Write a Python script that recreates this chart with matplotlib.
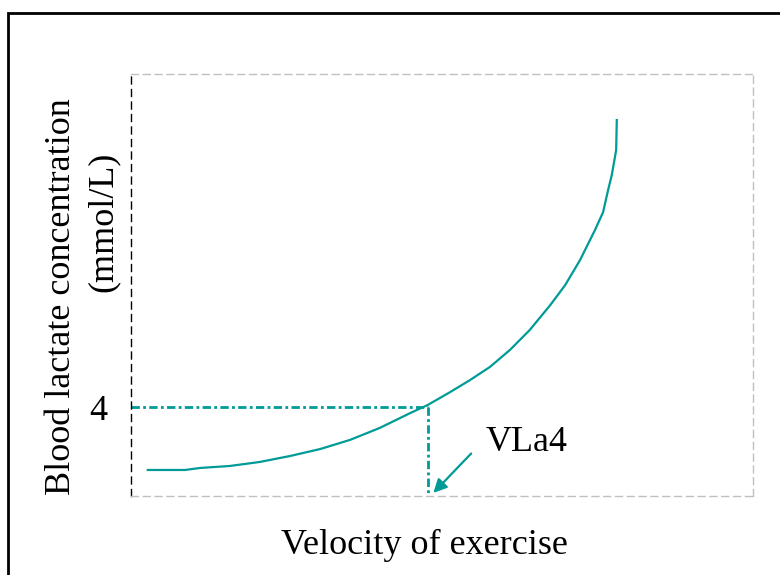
import numpy as np
import matplotlib.pyplot as plt
from matplotlib.patches import Rectangle

# curve (arbitrary velocity units, mmol/L)
velocity = [2.7, 8.7, 11.1, 15.9, 20.7, 25.6, 30.4, 35.2, 40.0, 44.9, 47.7, 51.3, 54.5,
            57.7, 60.9, 64.1, 67.4, 69.8, 72.2, 74.6, 75.9, 76.7, 77.3, 78.0, 78.1]
lactate = [1.17, 1.17, 1.26, 1.35, 1.53, 1.80, 2.11, 2.52, 3.06, 3.73, 4.09, 4.67, 5.21,
           5.80, 6.56, 7.46, 8.58, 9.48, 10.61, 11.96, 12.76, 13.75, 14.43, 15.55, 16.90]
vla4_x = 47.7
vla4_y = 4
ytick_vals = [4]
ytick_labels = ["4"]

teal = "#009b96"
plt.rcParams['font.family'] = ['Liberation Serif', 'DejaVu Serif']

fig = plt.figure(figsize=(7.8, 5.75), dpi=100)
ax = fig.add_axes([131/780, 1-496/575, 622/780, 422/575])

ax.plot(velocity, lactate, color=teal, lw=1.6)
ax.plot([0, vla4_x], [vla4_y, vla4_y], color=teal, lw=2, ls=(0, (3, 1.2, 1, 1.2)))
ax.plot([vla4_x, vla4_x], [vla4_y, 0], color=teal, lw=2, ls=(0, (3, 1.2, 1, 1.2)))

ax.annotate("", xy=(48.3, 0.05), xytext=(55.0, 2.0),
            arrowprops=dict(arrowstyle="-|>", color=teal, lw=1.6, mutation_scale=20))
ax.text(57.0, 2.4, "VLa4", fontsize=26, va="center", ha="left")

ax.set_xlim(0, 100)
ax.set_ylim(0, 18.97)
ax.set_xticks([])
ax.set_yticks(ytick_vals)
ax.set_yticklabels(ytick_labels, fontsize=26)
ax.tick_params(axis='y', length=0, pad=17)

ax.spines['left'].set_color('black')
ax.spines['left'].set_linestyle((0, (5, 4)))
ax.spines['left'].set_linewidth(1)
for s in ['top', 'right', 'bottom']:
    ax.spines[s].set_color('#c0c0c0')
    ax.spines[s].set_linestyle((0, (5, 3.5)))
    ax.spines[s].set_linewidth(1)

fig.text(424/780, 1-545/575, "Velocity of exercise", fontsize=26, ha="center", va="center")
fig.text(62/780, 1-297/575, "Blood lactate concentration", fontsize=26,
         rotation=90, ha="center", va="center")
fig.text(103/780, 1-222/575, "(mmol/L)", fontsize=26,
         rotation=90, ha="center", va="center")

# outer frame, clipped at right and bottom
fig.patches.append(Rectangle((8/780, -0.1), 1.2, 0.1 + 1 - 13/575, transform=fig.transFigure,
                             fill=False, edgecolor='black', lw=2))

fig.savefig("out.png", dpi=100)
